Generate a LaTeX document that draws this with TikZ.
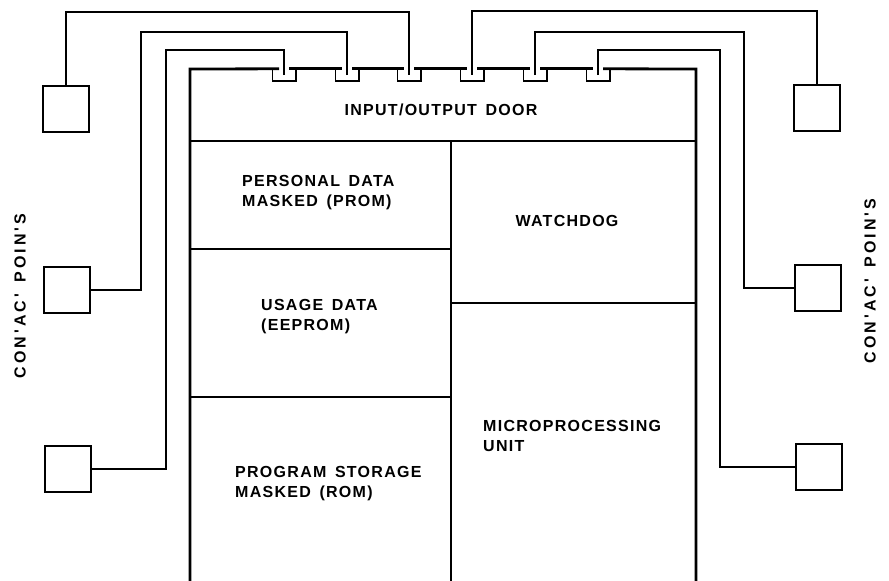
\documentclass[tikz,border=0pt]{standalone}
\usepackage{fontspec}
\newfontfamily\chipfont{Liberation Sans Bold}[LetterSpace=8, WordSpace=1.5]
\newfontfamily\contactfont{Liberation Sans Bold}[LetterSpace=19, WordSpace=1.5]
\usetikzlibrary{positioning}

\begin{document}
\begin{tikzpicture}[
    x=1pt, y=-1pt,
    contact/.style={rectangle, draw, line width=1.8pt, minimum size=46pt, inner sep=0pt},
    pad/.style={rectangle, minimum width=23pt, minimum height=12pt, inner sep=0pt},
    wire/.style={line width=1.4pt},
    outline/.style={line width=2.8pt},
    divider/.style={line width=1.6pt},
    label/.style={font=\chipfont\fontsize{16pt}{20pt}\selectfont, align=left, inner sep=0pt},
    sidelabel/.style={font=\contactfont\fontsize{16pt}{20pt}\selectfont, rotate=90, inner sep=0pt}
]
\useasboundingbox (0,0) rectangle (889,581);

% Pads on the top edge of the chip
\node[pad] (p1) at (284,75) {};
\node[pad] (p2) at (347,75) {};
\node[pad] (p3) at (409,75) {};
\node[pad] (p4) at (472,75) {};
\node[pad] (p5) at (535,75) {};
\node[pad] (p6) at (598,75) {};

% Chip outline
\draw[outline] (190,581) -- (190,69) -- ([xshift=-5pt]p1.north);
\draw[outline] ([xshift=5pt]p1.north) -- ([xshift=-5pt]p2.north);
\draw[outline] ([xshift=5pt]p2.north) -- ([xshift=-5pt]p3.north);
\draw[outline] ([xshift=5pt]p3.north) -- ([xshift=-5pt]p4.north);
\draw[outline] ([xshift=5pt]p4.north) -- ([xshift=-5pt]p5.north);
\draw[outline] ([xshift=5pt]p5.north) -- ([xshift=-5pt]p6.north);
\draw[outline] ([xshift=5pt]p6.north) -- (696,69) -- (696,581);

\draw[divider] (p1.north west) |- (p1.south east) -- (p1.north east);
\draw[divider] (p2.north west) |- (p2.south east) -- (p2.north east);
\draw[divider] (p3.north west) |- (p3.south east) -- (p3.north east);
\draw[divider] (p4.north west) |- (p4.south east) -- (p4.north east);
\draw[divider] (p5.north west) |- (p5.south east) -- (p5.north east);
\draw[divider] (p6.north west) |- (p6.south east) -- (p6.north east);

% Blocks inside the chip
\draw[divider] (190,141) -- (696,141);
\draw[divider] (451,141) -- (451,581);
\draw[divider] (190,249) -- (451,249);
\draw[divider] (190,397) -- (451,397);
\draw[divider] (451,303) -- (696,303);

\node[label] (io) at (441,110) {INPUT/OUTPUT DOOR};
\node[label, anchor=west] (personal) at (242,193) {PERSONAL DATA\\MASKED (PROM)};
\node[label] (watchdog) at (567,221) {WATCHDOG};
\node[label, anchor=west] (usage) at (261,317) {USAGE DATA\\(EEPROM)};
\node[label, anchor=west] (mpu) at (483,436) {MICROPROCESSING\\UNIT};
\node[label, anchor=west] (program) at (235,484) {PROGRAM STORAGE\\MASKED (ROM)};

% Contact points
\node[contact] (cl1) at (66,109) {};
\node[contact] (cl2) at (67,290) {};
\node[contact] (cl3) at (68,469) {};
\node[contact] (cr1) at (817,108) {};
\node[contact] (cr2) at (818,288) {};
\node[contact] (cr3) at (819,467) {};

\node[sidelabel] (contactsl) at (20,296) {CON'AC' POIN'S};
\node[sidelabel] (contactsr) at (870,281) {CON'AC' POIN'S};

% Wires from pads to contacts
\draw[wire] (p1.center) |- (166,50) -- (166,469) -- (cl3.east);
\draw[wire] (p2.center) |- (141,32) -- (141,290) -- (cl2.east);
\draw[wire] (cl1.north) -- ++(0,-73) -| (p3.center);
\draw[wire] (cr1.north) -- ++(0,-73) -| (p4.center);
\draw[wire] (p5.center) |- (744,32) -- (744,288) -- (cr2.west);
\draw[wire] (p6.center) |- (720,50) -- (720,467) -- (cr3.west);

\end{tikzpicture}
\end{document}
